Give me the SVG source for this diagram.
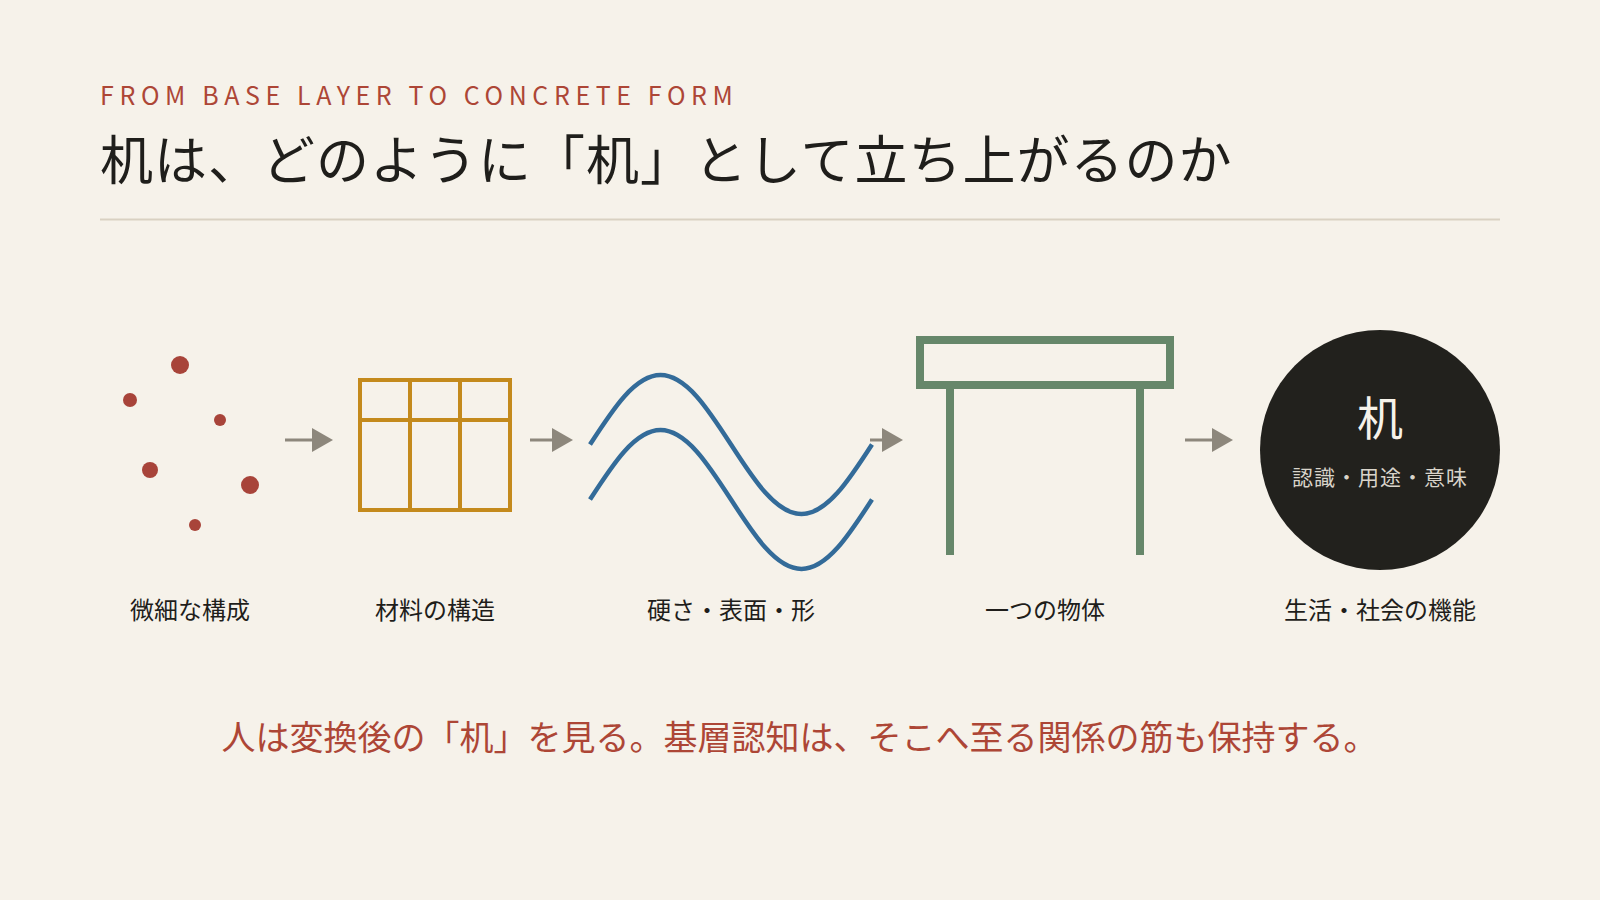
<svg xmlns="http://www.w3.org/2000/svg" width="1600" height="900" viewBox="0 0 1600 900">
  <defs>
    <style>
      .jp { font-family: "Noto Sans CJK JP", "Noto Sans", sans-serif; }
      .eyebrow { font-size: 25px; fill: #ad4636; letter-spacing: 5.6px; }
      .title { font-size: 53px; fill: #1f1e1b; letter-spacing: 1px; }
      .label { font-size: 24px; fill: #1f1e1b; text-anchor: middle; }
      .foot { font-size: 34px; fill: #ad4636; text-anchor: middle; }
      .dot { fill: #a8443a; }
      .grid { fill: none; stroke: #c48a1c; stroke-width: 4; }
      .wave { fill: none; stroke: #336b99; stroke-width: 4.5; stroke-linecap: butt; }
      .desk { fill: none; stroke: #66876a; stroke-width: 8; }
      .conn { stroke: #8d877c; stroke-width: 3; fill: none; }
    </style>
    <marker id="ah" markerWidth="21" markerHeight="24" refX="0" refY="12" orient="auto" markerUnits="userSpaceOnUse">
      <path d="M0,0 L21,12 L0,24 Z" fill="#8d877c"/>
    </marker>
  </defs>

  <rect x="0" y="0" width="1600" height="900" fill="#f6f2ea"/>

  <g id="header">
    <text class="jp eyebrow" x="100" y="104.5">FROM BASE LAYER TO CONCRETE FORM</text>
    <text class="jp title" x="100" y="180">机は、どのように「机」として立ち上がるのか</text>
    <line x1="100" y1="219.5" x2="1500" y2="219.5" stroke="#d9d1c2" stroke-width="2"/>
  </g>

  <g id="connectors">
    <line class="conn" x1="285" y1="440" x2="312" y2="440" marker-end="url(#ah)"/>
    <line class="conn" x1="530" y1="440" x2="552" y2="440" marker-end="url(#ah)"/>
    <line class="conn" x1="870" y1="440" x2="882" y2="440" marker-end="url(#ah)"/>
    <line class="conn" x1="1185" y1="440" x2="1212" y2="440" marker-end="url(#ah)"/>
  </g>

  <g id="node-particles">
    <circle class="dot" cx="180" cy="365" r="9"/>
    <circle class="dot" cx="130" cy="400" r="7"/>
    <circle class="dot" cx="220" cy="420" r="6"/>
    <circle class="dot" cx="150" cy="470" r="8"/>
    <circle class="dot" cx="250" cy="485" r="9"/>
    <circle class="dot" cx="195" cy="525" r="6"/>
    <text class="jp label" x="190" y="619">微細な構成</text>
  </g>

  <g id="node-structure">
    <rect class="grid" x="360" y="380" width="150" height="130"/>
    <line class="grid" x1="410" y1="380" x2="410" y2="510"/>
    <line class="grid" x1="460" y1="380" x2="460" y2="510"/>
    <line class="grid" x1="360" y1="420" x2="510" y2="420"/>
    <text class="jp label" x="435" y="619">材料の構造</text>
  </g>

  <g id="node-properties">
    <path class="wave" d="M590,444.5 C613,408.9 635,375 660.5,375 C686,375 708,408.9 731,444.5 C754,480.1 776,514 801.5,514 C827,514 849,480.1 872,444.5"/>
    <path class="wave" d="M590,499.5 C613,463.9 635,430 660.5,430 C686,430 708,463.9 731,499.5 C754,535.1 776,569 801.5,569 C827,569 849,535.1 872,499.5"/>
    <text class="jp label" x="731" y="619">硬さ・表面・形</text>
  </g>

  <g id="node-object">
    <rect class="desk" x="920" y="340" width="250" height="45"/>
    <line class="desk" x1="950" y1="389" x2="950" y2="555"/>
    <line class="desk" x1="1140" y1="389" x2="1140" y2="555"/>
    <text class="jp label" x="1045" y="619">一つの物体</text>
  </g>

  <g id="node-function">
    <circle cx="1380" cy="450" r="120" fill="#22211d"/>
    <text class="jp" x="1380" y="435" font-size="46" fill="#f6f2ea" text-anchor="middle">机</text>
    <text class="jp" x="1380" y="485" font-size="21" fill="#d9d4ca" text-anchor="middle" letter-spacing="1">認識・用途・意味</text>
    <text class="jp label" x="1380" y="619">生活・社会の機能</text>
  </g>

  <g id="footer">
    <text class="jp foot" x="799.5" y="750">人は変換後の「机」を見る。基層認知は、そこへ至る関係の筋も保持する。</text>
  </g>
</svg>
